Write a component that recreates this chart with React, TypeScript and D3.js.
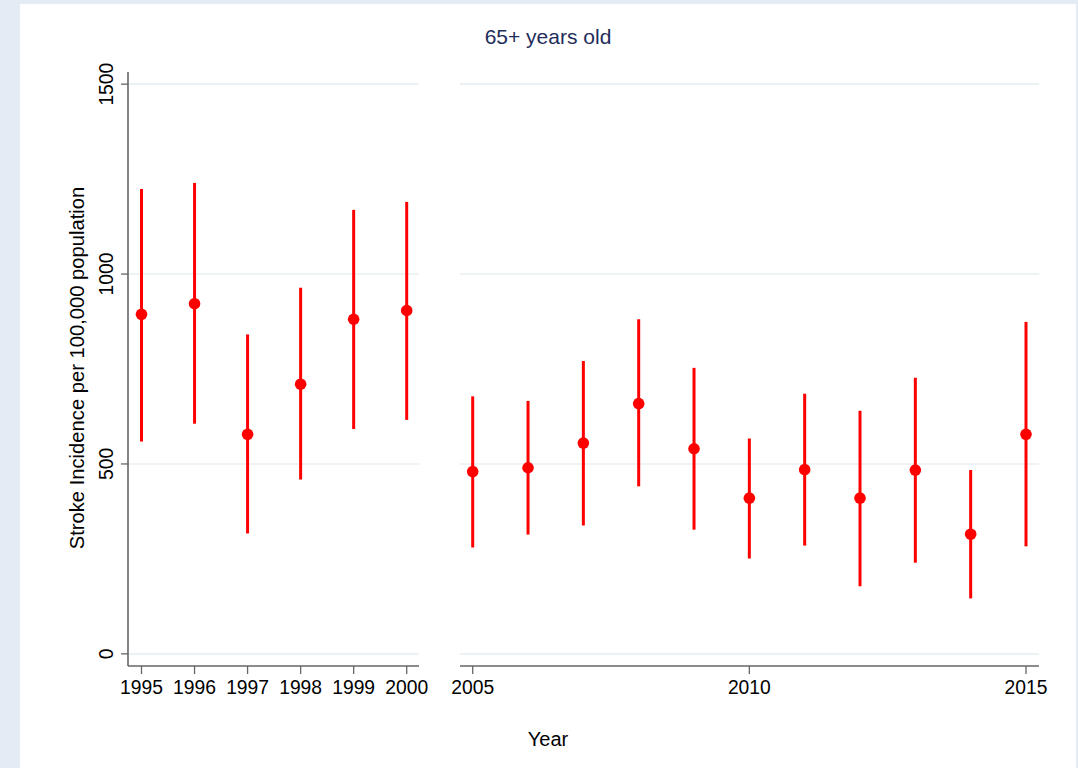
import React from "react";
import * as d3 from "d3";

const years1 = [1995, 1996, 1997, 1998, 1999, 2000];
const est1 = [894, 922, 578, 710, 881, 904];
const lo1 = [559, 606, 317, 459, 592, 616];
const hi1 = [1224, 1240, 841, 964, 1169, 1190];

const years2 = [2005, 2006, 2007, 2008, 2009, 2010, 2011, 2012, 2013, 2014, 2015];
const est2 = [480, 490, 555, 659, 540, 410, 485, 410, 484, 315, 578];
const lo2 = [280, 314, 338, 441, 327, 251, 285, 178, 240, 146, 283];
const hi2 = [678, 666, 771, 881, 753, 567, 685, 640, 727, 484, 874];

const yTicks = [0, 500, 1000, 1500];
const xTicks1 = [1995, 1996, 1997, 1998, 1999, 2000];
const xTicks2 = [2005, 2010, 2015];

const FONT = "'Liberation Sans', Arial, Helvetica, sans-serif";
const RED = "#ff0000";
const GRID = "#e9eff2";
const AXIS = "#666666";

export default function App() {
  const W = 1078;
  const H = 768;
  const y = d3.scaleLinear().domain([-32, 1532]).range([666, 72]);
  const x1 = d3.scaleLinear().domain([1995, 2000]).range([141.5, 406.7]);
  const x2 = d3.scaleLinear().domain([2005, 2015]).range([472.7, 1026]);

  const panels = [
    { x: x1, years: years1, est: est1, lo: lo1, hi: hi1, ticks: xTicks1, left: 128, right: 419 },
    { x: x2, years: years2, est: est2, lo: lo2, hi: hi2, ticks: xTicks2, left: 460, right: 1039 },
  ];
  const axisY = 666;

  return (
    <svg width={W} height={H} style={{ position: "absolute", left: 0, top: 0, display: "block" }} fontFamily={FONT}>
      <rect x={0} y={0} width={W} height={H} fill="#e4ebf5" />
      <rect x={20} y={4} width={1056} height={H - 4} fill="#ffffff" />
      <text x={548} y={44} textAnchor="middle" fontSize={21} fill="#1e2d5a">65+ years old</text>

      {panels.map((p, pi) => (
        <g key={pi}>
          {yTicks.map((t) => (
            <line key={t} x1={p.left} x2={p.right} y1={y(t)} y2={y(t)} stroke={GRID} strokeWidth={1.6} />
          ))}
          <line x1={p.left} x2={p.right} y1={axisY} y2={axisY} stroke={AXIS} strokeWidth={1.6} />
          {p.ticks.map((t) => (
            <g key={t}>
              <line x1={p.x(t)} x2={p.x(t)} y1={axisY} y2={axisY + 8} stroke={AXIS} strokeWidth={1.3} />
              <text x={p.x(t)} y={694} textAnchor="middle" fontSize={19.3} fill="#000">{t}</text>
            </g>
          ))}
          {p.years.map((yr, i) => (
            <g key={yr}>
              <line x1={p.x(yr)} x2={p.x(yr)} y1={y(p.lo[i])} y2={y(p.hi[i])} stroke={RED} strokeWidth={3} />
              <circle cx={p.x(yr)} cy={y(p.est[i])} r={5.8} fill={RED} />
            </g>
          ))}
        </g>
      ))}

      <line x1={128} x2={128} y1={72} y2={axisY} stroke={AXIS} strokeWidth={1.6} />
      {yTicks.map((t) => (
        <g key={t}>
          <line x1={121} x2={128} y1={y(t)} y2={y(t)} stroke={AXIS} strokeWidth={1.3} />
          <text
            transform={`translate(113,${y(t)}) rotate(-90)`}
            textAnchor="middle"
            fontSize={19.3}
            fill="#000"
          >
            {t}
          </text>
        </g>
      ))}
      <text transform={`translate(84,368) rotate(-90)`} textAnchor="middle" fontSize={20.2} fill="#000">
        Stroke Incidence per 100,000 population
      </text>
      <text x={548} y={746} textAnchor="middle" fontSize={20} fill="#000">Year</text>
    </svg>
  );
}
